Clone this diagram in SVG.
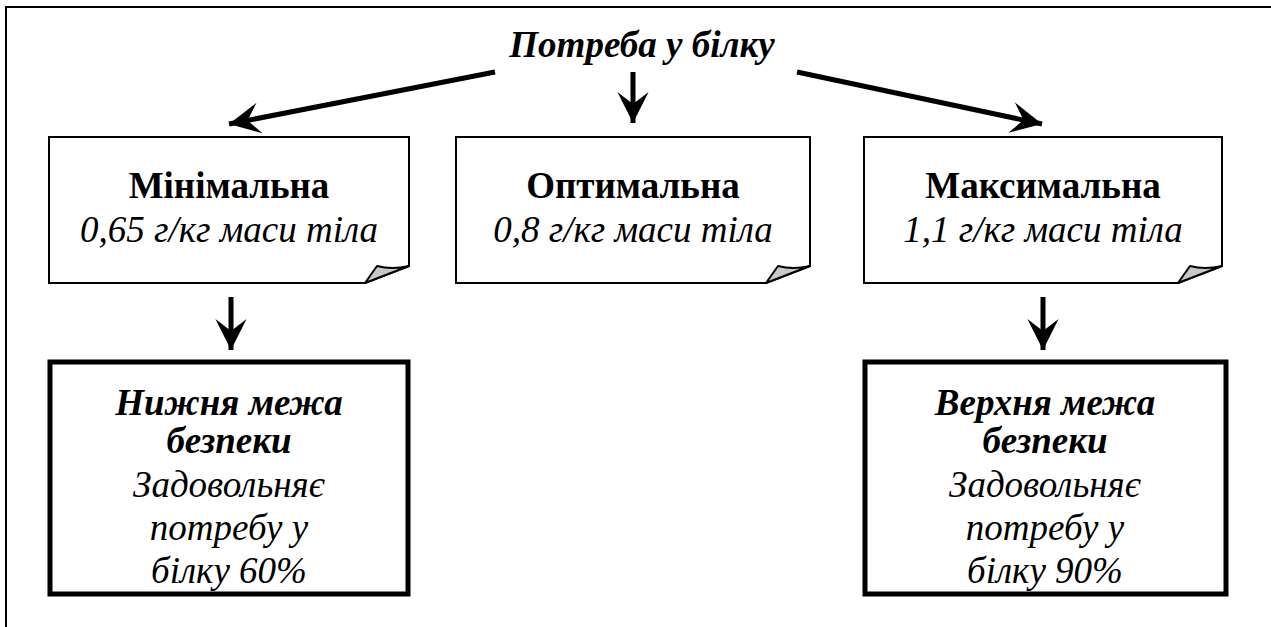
<svg xmlns="http://www.w3.org/2000/svg" width="1271" height="627" viewBox="0 0 1271 627">
<defs>
<marker id="ah" markerUnits="userSpaceOnUse" markerWidth="40" markerHeight="40" viewBox="-32 -16 36 32" refX="0" refY="0" orient="auto">
<path d="M0,0 L-28,-14 L-17,0 L-28,14 Z" fill="#000"/>
</marker>
<style>
.b{font-family:"Liberation Serif","Times New Roman",serif;font-weight:bold;font-size:37px;text-anchor:middle;fill:#000}
.bi{font-family:"Liberation Serif","Times New Roman",serif;font-weight:bold;font-style:italic;font-size:37px;text-anchor:middle;fill:#000}
.i{font-family:"Liberation Serif","Times New Roman",serif;font-style:italic;font-size:37px;text-anchor:middle;fill:#000}
.note{fill:#fff;stroke:#000;stroke-width:2}
.fold{fill:#c8c8c8;stroke:#000;stroke-width:2;stroke-linejoin:round}
.bold{fill:#fff;stroke:#000;stroke-width:5}
.con{stroke:#000;stroke-width:5;fill:none;marker-end:url(#ah)}
</style>
</defs>
<rect x="0" y="0" width="1271" height="627" fill="#fff"/>
<rect id="frame" x="6" y="7" width="1300" height="700" fill="none" stroke="#000" stroke-width="2"/>
<g id="title"><text class="bi" x="642" y="57">Потреба у білку</text></g>
<g id="connectors">
<line class="con" x1="495" y1="72" x2="229" y2="124"/>
<line class="con" x1="633" y1="72" x2="633" y2="123"/>
<line class="con" x1="797" y1="72" x2="1042" y2="124"/>
<line class="con" x1="231" y1="297" x2="231" y2="350"/>
<line class="con" x1="1043" y1="297" x2="1043" y2="350"/>
</g>
<g id="min">
<path class="note" d="M49,137 H409 V266 L365,283 H49 Z"/>
<path class="fold" d="M365,283 L377,266 Q392,270 409,266 Z"/>
<text class="b" x="229" y="198">Мінімальна</text>
<text class="i" x="229" y="242">0,65 г/кг маси тіла</text>
</g>
<g id="opt">
<path class="note" d="M456,137 H810 V266 L766,283 H456 Z"/>
<path class="fold" d="M766,283 L778,266 Q793,270 810,266 Z"/>
<text class="b" x="633" y="198">Оптимальна</text>
<text class="i" x="633" y="242">0,8 г/кг маси тіла</text>
</g>
<g id="max">
<path class="note" d="M864,137 H1222 V266 L1178,283 H864 Z"/>
<path class="fold" d="M1178,283 L1190,266 Q1205,270 1222,266 Z"/>
<text class="b" x="1043" y="198">Максимальна</text>
<text class="i" x="1043" y="242">1,1 г/кг маси тіла</text>
</g>
<g id="lower">
<rect class="bold" x="50" y="362" width="358" height="232"/>
<text class="bi" x="229" y="415">Нижня межа</text>
<text class="bi" x="229" y="453">безпеки</text>
<text class="i" x="229" y="497">Задовольняє</text>
<text class="i" x="229" y="540">потребу у</text>
<text class="i" x="229" y="583">білку 60%</text>
</g>
<g id="upper">
<rect class="bold" x="865" y="362" width="361" height="232"/>
<text class="bi" x="1045" y="415">Верхня межа</text>
<text class="bi" x="1045" y="453">безпеки</text>
<text class="i" x="1045" y="497">Задовольняє</text>
<text class="i" x="1045" y="540">потребу у</text>
<text class="i" x="1045" y="583">білку 90%</text>
</g>
</svg>
